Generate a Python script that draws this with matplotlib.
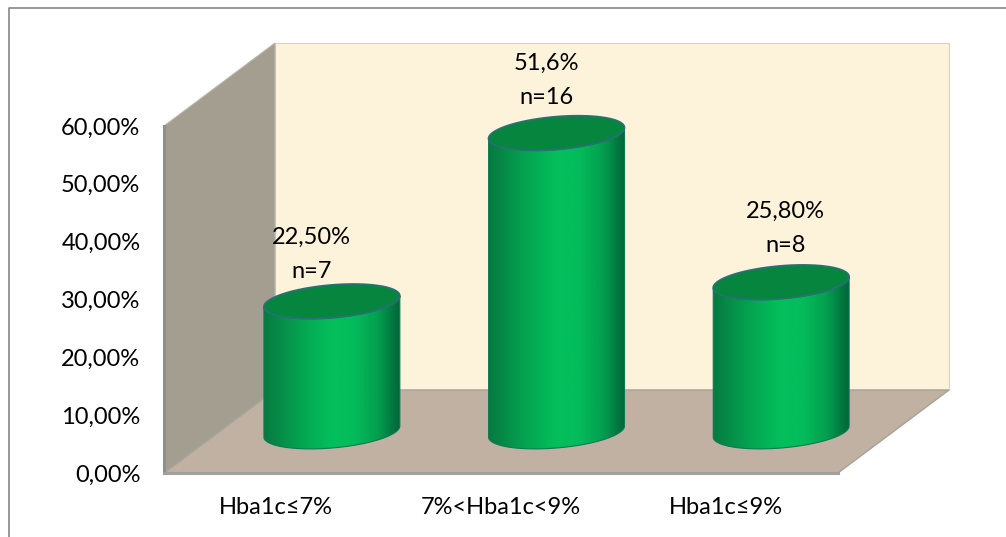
import matplotlib
matplotlib.use("Agg")
import matplotlib.pyplot as plt
import numpy as np
from matplotlib.colors import LinearSegmentedColormap
from matplotlib.patches import Polygon

plt.rcParams['font.family'] = ['Lato', 'DejaVu Sans']

categories = ['Hba1c≤7%', '7%<Hba1c<9%', 'Hba1c≤9%']
values = [22.5, 51.6, 25.8]
top_labels = ['22,50%\nn=7', '51,6%\nn=16', '25,80%\nn=8']
yticks = [0, 10, 20, 30, 40, 50, 60]
ytick_labels = ['0,00%', '10,00%', '20,00%', '30,00%', '40,00%', '50,00%', '60,00%']

W, H = 1006, 537
fig = plt.figure(figsize=(W/100, H/100), dpi=100)
ax = fig.add_axes([164/W, (H-473)/H, 674/W, 347/H])
ax.set_xlim(-0.5, 2.5)
ax.set_ylim(0, 60)

# px to data scale
ux = 3/674
uy = 60/347
# 3d depth of the box
dx = 111*ux
dy = 83*uy

# outer frame, only top and left show in the picture
fig.add_artist(plt.Line2D([9/W, 9/W, 1006/W], [0, 1-8/H, 1-8/H], color='#868686', lw=1.2))

x0, x1 = -0.5, 2.5
wall = Polygon([(x0+dx, dy), (x1+dx, dy), (x1+dx, 60+dy), (x0+dx, 60+dy)], fc='#fdf2da', ec='#d4d1c6', lw=0.8, clip_on=False)
side = Polygon([(x0, 0), (x0+dx, dy), (x0+dx, 60+dy), (x0, 60)], fc='#a39e8f', ec='#b9b6ab', lw=0.8, clip_on=False)
floor = Polygon([(x0, 0), (x1, 0), (x1+dx, dy), (x0+dx, dy)], fc='#c0b1a2', ec='#a6a29a', lw=1.0, clip_on=False)
ax.add_patch(wall)
ax.add_patch(side)
ax.add_patch(floor)
ax.plot([x0, x0], [0, 60], color='#8f8f8b', lw=2.2, clip_on=False)
ax.plot([x0, x1], [0, 0], color='#a0a09c', lw=2.2, clip_on=False)

green = LinearSegmentedColormap.from_list('cyl', ['#067a40', '#05944b', '#04ad54', '#03bf5c', '#03bb5a', '#03a04f', '#02663a'])
grad = np.linspace(0, 1, 256).reshape(1, -1)

a = 68*ux
b = 16.5*uy
s = 5.5*uy
t = np.linspace(0, 2*np.pi, 121)
ex = a*np.cos(t)
ey = s*np.cos(t) + b*np.sin(t)
front = np.sin(t) <= 0

# label nudges in px, the labels are placed by hand in the original
label_dx = [-20, -10, 4]
label_dy = [31, 37, 38]

for i, v in enumerate(values):
    cx = i + dx/2
    base = dy/2
    order = np.argsort(ex[front])
    bx = ex[front][order]
    by = ey[front][order]
    body = np.column_stack([np.r_[cx+bx, cx+bx[::-1]], np.r_[base+by, base+v+by[::-1]]])
    clip = Polygon(body, fc='none', ec='#0b7a55', lw=0.8, clip_on=False, zorder=4)
    ax.add_patch(clip)
    im = ax.imshow(grad, cmap=green, extent=(cx-a, cx+a, base-b-s, base+v+b+s), aspect='auto', zorder=3)
    im.set_clip_path(clip)
    im.set_clip_box(fig.bbox)
    ax.add_patch(Polygon(np.column_stack([cx+ex, base+v+ey]), fc='#06853f', ec='#2b6f78', lw=1.2, clip_on=False, zorder=5))
    ax.annotate(top_labels[i], (cx, base+v), xytext=(label_dx[i]*0.72, (label_dy[i]-12)*0.72), textcoords='offset points',
                ha='center', va='bottom', fontsize=17, color='black', linespacing=1.8, annotation_clip=False)

ax.set_xlim(-0.5, 2.5)
ax.set_ylim(0, 60)
ax.set_xticks(range(3))
ax.set_xticklabels(categories, fontsize=17)
ax.set_yticks(yticks)
ax.set_yticklabels(ytick_labels, fontsize=17)
ax.tick_params(length=0, pad=17, axis='y')
ax.tick_params(length=0, pad=17.5, axis='x')
for sp in ax.spines.values():
    sp.set_visible(False)
ax.patch.set_visible(False)

fig.savefig('out.png', dpi=100)
